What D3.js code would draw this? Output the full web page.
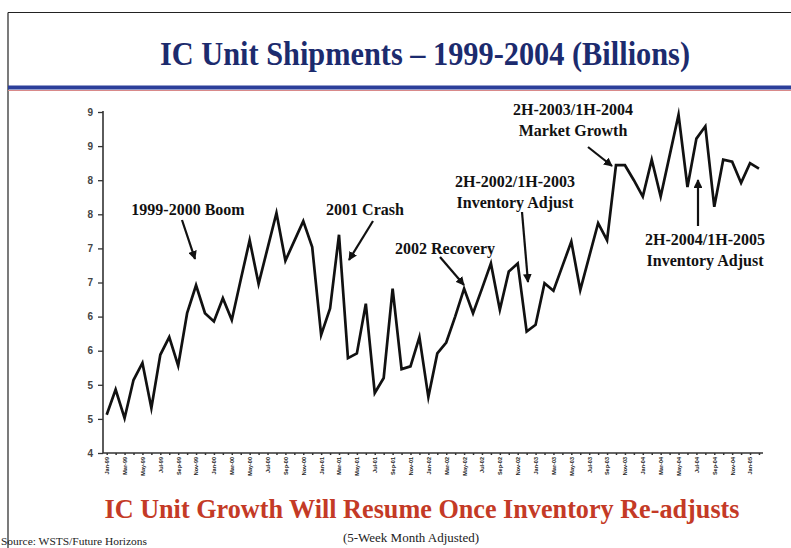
<!DOCTYPE html>
<html><head><meta charset="utf-8">
<script src="https://cdn.jsdelivr.net/npm/d3@7"></script>
<style>body{margin:0;background:#fff}svg{display:block}</style>
</head><body>
<script>
// ---- data ----
const startMonth = new Date(1999, 0, 1);
const values = [4.56,4.93,4.51,5.07,5.32,4.66,5.44,5.70,5.28,6.05,6.46,6.05,
  5.93,6.27,5.95,6.54,7.12,6.48,7.00,7.52,6.82,7.11,7.40,7.02,
  5.73,6.12,7.20,5.39,5.46,6.19,4.88,5.10,6.41,5.23,5.27,5.70,
  4.82,5.46,5.62,6.00,6.41,6.05,6.41,6.78,6.10,6.66,6.78,5.78,
  5.88,6.49,6.38,6.74,7.10,6.39,6.88,7.37,7.12,8.22,8.22,8.00,
  7.76,8.30,7.76,8.36,8.96,7.90,8.61,8.79,7.61,8.30,8.27,7.96,
  8.25,8.17];
const months = d3.timeMonth.range(startMonth, d3.timeMonth.offset(startMonth, values.length));
const yTickValues = [4,4.5,5,5.5,6,6.5,7,7.5,8,8.5,9];
const yTickLabels = ["4","5","5","6","6","7","7","8","8","9","9"];
const annotations = [
  {lines:["1999-2000 Boom"], x:188, y:215, from:[182,220], to:[195,259]},
  {lines:["2001 Crash"], x:365, y:215, from:[373,221], to:[349,260]},
  {lines:["2002 Recovery"], x:445, y:254, from:[440,257], to:[464,285]},
  {lines:["2H-2002/1H-2003","Inventory Adjust"], x:515, y:187, from:[522,212], to:[528,282]},
  {lines:["2H-2003/1H-2004","Market Growth"], x:573, y:115, from:[588,147], to:[612,166]},
  {lines:["2H-2004/1H-2005","Inventory Adjust"], x:705, y:245, from:[698,226], to:[698,180]}
];

const W = 791, H = 548;
const svg = d3.select("body").append("svg").attr("width", W).attr("height", H);

// frame
svg.append("line").attr("x1",8).attr("x2",W).attr("y1",12.5).attr("y2",12.5).attr("stroke","#222").attr("stroke-width",1.2);
svg.append("line").attr("x1",8).attr("x2",8).attr("y1",12.5).attr("y2",H).attr("stroke","#222").attr("stroke-width",1.2);

// title
svg.append("text").attr("x",425).attr("y",65).attr("text-anchor","middle")
  .attr("font-family","Liberation Serif, serif").attr("font-weight","bold").attr("font-size",33)
  .attr("fill","#1c2b6e").attr("textLength",530).attr("lengthAdjust","spacingAndGlyphs")
  .text("IC Unit Shipments – 1999-2004 (Billions)");
svg.append("line").attr("x1",8).attr("x2",W).attr("y1",87.5).attr("y2",87.5).attr("stroke","#2c3f9a").attr("stroke-width",4);
svg.append("line").attr("x1",8).attr("x2",W).attr("y1",90.5).attr("y2",90.5).attr("stroke","#d98a8a").attr("stroke-width",1);

// scales
const x = d3.scalePoint().domain(months.map(d=>+d)).range([106.7, 106.7 + 8.935*(months.length-1)]);
const y = d3.scaleLinear().domain([4, 9]).range([453, 112]);

// y axis
const yAxis = d3.axisLeft(y).tickValues(yTickValues).tickFormat((d,i)=>yTickLabels[i]).tickSize(5).tickSizeOuter(0);
const gy = svg.append("g").attr("transform","translate(103,0)").call(yAxis);
gy.select(".domain").attr("stroke","#333").attr("stroke-width",1.6).attr("d","M0,111V453");
gy.selectAll(".tick line").attr("stroke","#333").attr("stroke-width",1.3);
gy.selectAll(".tick text").attr("font-family","Arial, Liberation Sans, sans-serif").attr("font-weight","bold")
  .attr("font-size",10).attr("fill","#444").attr("x",-10);

// x axis
const fmt = d3.timeFormat("%b-%y");
const xAxis = d3.axisBottom(x).tickSize(2).tickSizeOuter(0)
  .tickFormat((d,i)=> i%2===0 ? fmt(new Date(d)) : "");
const gx = svg.append("g").attr("transform","translate(0,453)").call(xAxis);
gx.select(".domain").attr("stroke","#333").attr("stroke-width",1.6).attr("d","M103,0H763");
gx.selectAll(".tick line").attr("stroke","#333").attr("stroke-width",1.5);
gx.selectAll(".tick text").attr("font-family","Arial, Liberation Sans, sans-serif").attr("font-weight","bold")
  .attr("font-size",5.5).attr("fill","#222").attr("text-anchor","end")
  .attr("transform","rotate(-90)").attr("x",-4).attr("y",0).attr("dy","0.35em");

// line
const line = d3.line().x((d,i)=>x(+months[i])).y(d=>y(d));
svg.append("path").datum(values).attr("d",line).attr("fill","none").attr("stroke","#111")
  .attr("stroke-width",2.7).attr("stroke-linejoin","miter").attr("stroke-miterlimit",6);

// arrow marker
svg.append("defs").append("marker").attr("id","ah").attr("viewBox","0 0 10 10").attr("refX",9).attr("refY",5)
  .attr("markerWidth",4).attr("markerHeight",4).attr("markerUnits","strokeWidth").attr("orient","auto")
  .append("path").attr("d","M0,0L10,5L0,10z").attr("fill","#111");

// annotations
annotations.forEach(a=>{
  const t = svg.append("text").attr("text-anchor","middle").attr("font-family","Liberation Serif, serif")
    .attr("font-weight","bold").attr("font-size",16).attr("fill","#111");
  a.lines.forEach((l,i)=> t.append("tspan").attr("x",a.x).attr("y",a.y + i*21).text(l));
  svg.append("line").attr("x1",a.from[0]).attr("y1",a.from[1]).attr("x2",a.to[0]).attr("y2",a.to[1])
    .attr("stroke","#111").attr("stroke-width",2.2).attr("marker-end","url(#ah)");
});

// bottom texts
svg.append("text").attr("x",422).attr("y",518).attr("text-anchor","middle")
  .attr("font-family","Liberation Serif, serif").attr("font-weight","bold").attr("font-size",27)
  .attr("fill","#c43a26").attr("textLength",635).attr("lengthAdjust","spacingAndGlyphs")
  .text("IC Unit Growth Will Resume Once Inventory Re-adjusts");
svg.append("text").attr("x",411).attr("y",542).attr("text-anchor","middle")
  .attr("font-family","Liberation Serif, serif").attr("font-size",13).attr("fill","#222")
  .text("(5-Week Month Adjusted)");
svg.append("text").attr("x",1).attr("y",545).attr("font-family","Liberation Serif, serif")
  .attr("font-size",10).attr("fill","#222").attr("textLength",146).attr("lengthAdjust","spacingAndGlyphs")
  .text("Source: WSTS/Future Horizons");
</script>
</body></html>
